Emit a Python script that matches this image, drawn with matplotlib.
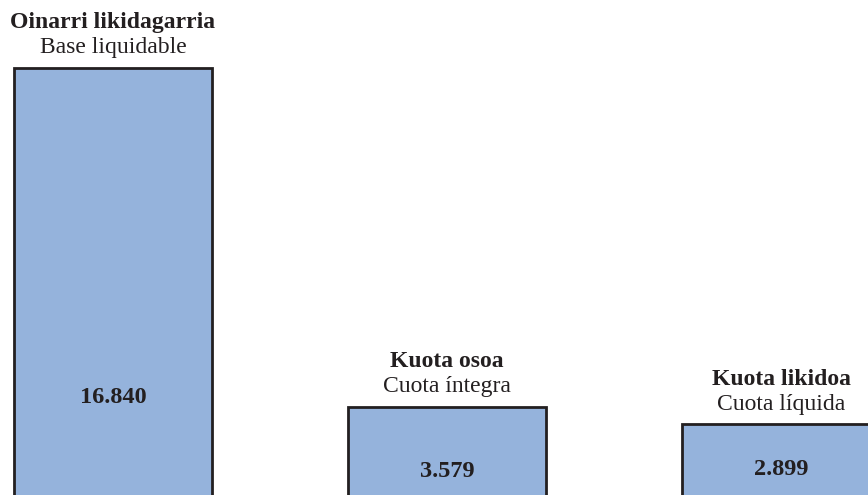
import matplotlib.pyplot as plt
import numpy as np

# data
names_eu = ["Oinarri likidagarria", "Kuota osoa", "Kuota likidoa"]
names_es = ["Base liquidable", "Cuota íntegra", "Cuota líquida"]
values = [16840, 3579, 2899]
value_labels = ["16.840", "3.579", "2.899"]

# where the value text sits inside each bar (data units)
label_y = [3970, 1040, 1150]

plt.rcParams['font.family'] = ['Liberation Serif', 'DejaVu Serif']

fig = plt.figure(figsize=(8.68, 4.95), dpi=100)
ax = fig.add_axes([0, 0, 1, 1])

x = np.arange(len(values))
ax.bar(x, values, width=0.593, color="#95b3dc", edgecolor="#231f20", linewidth=2)

for i in range(len(values)):
    ax.annotate(names_eu[i], (x[i], values[i]), xytext=(0, 28.6), textcoords="offset points",
                ha="center", va="baseline", fontsize=17, fontweight="bold", color="#231f20")
    ax.annotate(names_es[i], (x[i], values[i]), xytext=(0, 10.6), textcoords="offset points",
                ha="center", va="baseline", fontsize=17, color="#231f20")
    ax.text(x[i], label_y[i], value_labels[i], ha="center", va="center",
            fontsize=17.5, fontweight="bold", color="#231f20")

ax.set_xlim(-0.338, 2.260)
ax.set_ylim(137, 19501)
ax.axis("off")

plt.savefig("out.png", dpi=100)
